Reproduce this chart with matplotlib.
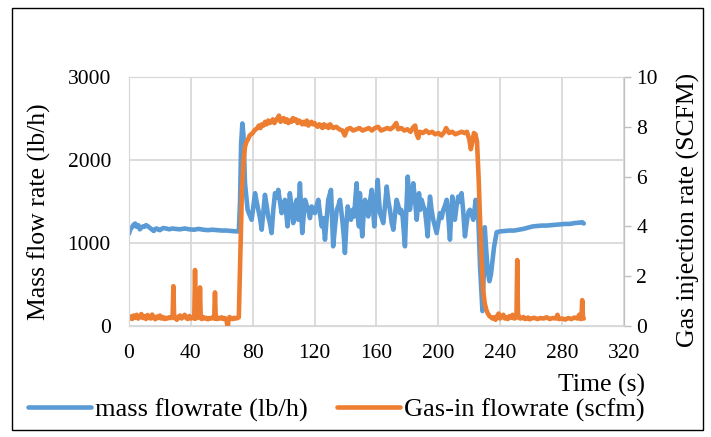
import matplotlib.pyplot as plt
from matplotlib.patches import Rectangle

# mass flowrate readings (s, lb/h)
mass_time = [0, 1, 2, 3, 4, 5, 6, 7, 8, 9, 10, 11, 12, 13, 14, 15, 16, 17, 18, 19, 20,
             22, 24, 26, 28, 30, 33, 36, 39, 42, 45, 48, 51, 54, 57, 60, 63, 66, 69, 71,
             71.8, 72.5, 73.3, 74, 75, 76.7, 77.5, 79.3, 80.5, 81.5, 82.5, 83.6, 84.7, 85.8,
             87, 87.9, 89, 90, 91, 92.2, 93.3, 94.4, 95.5, 96.5, 97.6, 98.7, 99.8, 100.8,
             101.7, 102.5, 103.3, 104, 105, 106.2, 107.3, 108.4, 109.4, 110.5, 111.3, 112,
             113, 113.8, 115, 115.9, 117, 118.1, 119.2, 120.2, 121.3, 122.4, 123.5, 124.6,
             125.6, 126.7, 127.8, 128.8, 130.6, 131.3, 132, 133.2, 134.3, 135.4, 136.4,
             137.9, 138.8, 139.6, 140.5, 141.4, 142.5, 143.5, 144.6, 145.6, 146.4, 147.2,
             148, 148.7, 149.3, 150, 150.8, 151.7, 152.6, 153.7, 154.7, 155.8, 156.9, 157.8,
             158.6, 159.7, 160.8, 161.5, 162.3, 163.4, 164.4, 165.5, 166.6, 167.7, 168.7,
             169.8, 170.9, 172, 173, 174.1, 175.2, 176, 176.9, 177.6, 178.4, 179.3, 180.2,
             181, 181.6, 182.7, 183.8, 185, 186, 186.8, 187.5, 188.3, 189.2, 190.2, 191.3,
             192.2, 193.1, 193.8, 194.6, 195.6, 196.7, 197.8, 198.9, 200, 201, 202.1, 203.2,
             204.3, 205.4, 206.5, 207.5, 208.2, 209, 209.8, 210.7, 211.8, 212.9, 213.9, 215,
             216, 217.2, 218, 218.9, 219.6, 220.4, 221.5, 222.6, 223.4, 224.1, 225, 225.8,
             227, 228.5, 229.3, 230, 231, 232, 233, 234, 234.5, 236, 237.7, 240, 243, 246,
             249, 252, 255, 258, 261, 264, 267, 270, 273, 276, 279, 282, 285, 288, 291, 293, 294]
mass_flow = [1110, 1170, 1190, 1220, 1235, 1195, 1215, 1165, 1185, 1200, 1195, 1215, 1205,
             1190, 1175, 1160, 1145, 1170, 1175, 1160, 1155, 1180, 1175, 1165, 1175, 1170,
             1165, 1175, 1165, 1160, 1170, 1160, 1155, 1160, 1155, 1150, 1150, 1145, 1140, 1140,
             1500, 2200, 2440, 2300, 1720, 1400, 1360, 1280, 1450, 1600, 1500, 1400, 1300, 1160,
             1400, 1580, 1450, 1320, 1250, 1120, 1400, 1600, 1550, 1640, 1500, 1360, 1450, 1520,
             1350, 1200, 1400, 1600, 1450, 1240, 1440, 1520, 1280, 1720, 1400, 1120,
             1350, 1520, 1450, 1400, 1300, 1440, 1380, 1360, 1450, 1520, 1350, 1200,
             1300, 1040, 1300, 1520, 1640, 1300, 960, 1200, 1400, 1450, 1520,
             1280, 1100, 880, 1200, 1440, 1350, 1280, 1400, 1320, 1550, 1720,
             1300, 1200, 1600, 1300, 1080, 1350, 1520, 1400, 1320, 1500, 1640, 1400,
             1200, 1500, 1760, 1550, 1360, 1300, 1240, 1450, 1680, 1500, 1400,
             1250, 1160, 1350, 1520, 1450, 1360, 1400, 1320, 1150, 960, 1400, 1800,
             1600, 1400, 1550, 1720, 1500, 1280, 1450, 1600, 1400, 1520, 1450, 1400,
             1250, 1080, 1350, 1560, 1400, 1280, 1200, 1120, 1250, 1360, 1300, 1400,
             1450, 1520, 1300, 1040, 1300, 1560, 1400, 1280, 1450, 1560, 1500, 1600,
             1400, 1080, 1200, 1320, 1380, 1400, 1350, 1280, 1400, 1520, 1450, 1320,
             700, 180, 600, 1190, 900, 650, 540, 620, 700, 950, 1130, 1140, 1145, 1150,
             1150, 1160, 1170, 1185, 1200, 1205, 1210, 1210, 1215, 1220, 1225, 1230, 1230,
             1240, 1245, 1250, 1235]

# gas-in flowrate readings (s, scfm)
gas_time = [0, 1, 2, 3, 4, 5, 6, 7, 8, 9, 10, 11, 12, 13, 14, 15, 16, 17, 18, 19, 20, 21,
            22, 23, 24, 25, 26, 27, 28.2, 28.7, 29.2, 30, 31, 32, 33, 34, 35, 36, 37, 38, 39,
            40, 41, 42.2, 42.7, 43.2, 44, 45.4, 45.9, 46.4, 47, 48, 49, 50, 51, 52, 53, 54,
            55.1, 55.6, 56.1, 57, 58, 59, 60, 61, 62, 63, 63.8, 64.5, 65, 66, 67, 68, 69, 70, 71,
            72, 73, 74, 75, 76, 77, 78, 79, 80, 81, 82, 83, 84, 85, 86, 87, 88, 89, 90, 91, 92,
            93, 94, 95, 96, 97, 98, 99, 100, 101, 102, 103, 104, 105, 106, 107, 108, 109, 110,
            111, 112, 113, 114, 115, 116, 117, 118, 119, 120, 121, 122, 123, 124, 125, 126, 127,
            128, 129, 130, 132, 134, 136, 138, 139.5, 141, 143, 145, 147, 149, 151, 153, 155,
            157, 159, 161, 163, 165, 167, 169, 171, 172.8, 174, 176, 178, 180, 182, 184, 185,
            186, 187, 188, 190, 192, 194, 196, 198, 200, 202, 204, 205, 207, 209, 211, 213, 215,
            217, 218.5, 220, 221, 222, 223, 224, 225, 226, 227, 228, 229, 230, 231, 232, 233,
            234, 235, 236, 237, 238, 239, 240, 241, 242, 243, 244, 245, 246, 247, 248, 249,
            250.5, 251, 251.5, 252, 253, 254, 255, 256, 257, 258, 259, 260, 262, 264, 266, 268,
            270, 272, 274, 276, 277, 278, 280, 282, 284, 286, 288, 290, 291, 292, 292.5, 293,
            293.5, 294]
gas_flow = [0.30, 0.38, 0.28, 0.42, 0.33, 0.45, 0.30, 0.36, 0.48, 0.32, 0.40, 0.28, 0.44,
            0.35, 0.30, 0.46, 0.34, 0.27, 0.38, 0.32, 0.42, 0.30, 0.36, 0.28, 0.33, 0.30, 0.35,
            0.32, 0.35, 1.60, 0.35, 0.30, 0.25, 0.38, 0.42, 0.30, 0.36, 0.45, 0.32, 0.28, 0.40,
            0.30, 0.35, 0.30, 2.25, 0.30, 0.35, 0.35, 1.55, 0.32, 0.28, 0.36, 0.30, 0.33, 0.27,
            0.32, 0.30, 0.35, 0.30, 1.35, 0.30, 0.28, 0.33, 0.30, 0.35, 0.28, 0.32, 0.25, -0.05,
            0.30, 0.36, 0.30, 0.28, 0.33, 0.30, 0.32, 0.35,
            2.8, 5.4, 6.6, 7.2, 7.4, 7.5, 7.65, 7.7, 7.75, 7.85, 7.9, 7.95, 8.05, 7.95, 8.1, 8.05,
            8.2, 8.1, 8.25, 8.15, 8.2, 8.3, 8.15, 8.25, 8.35, 8.45, 8.2, 8.3, 8.35, 8.2, 8.3,
            8.15, 8.25, 8.2, 8.35, 8.25, 8.3, 8.15, 8.25, 8.2, 8.1, 8.2, 8.1, 8.25, 8.05, 8.15,
            8.2, 8.1, 8.15, 8.05, 8.0, 8.1, 8.05, 7.95, 8.1, 8.0, 8.05, 7.95, 8.1, 7.95, 8.0,
            7.9, 7.85, 7.65, 7.9, 7.95, 7.85, 7.9, 7.95, 7.85, 7.9, 7.95, 7.85, 7.95, 8.0, 7.85,
            7.9, 7.95, 7.9, 8.0, 8.15, 7.9, 7.95, 7.85, 7.9, 7.8, 8.0, 8.05, 7.7, 7.55, 7.8,
            7.75, 7.85, 7.75, 7.8, 7.7, 7.75, 7.65, 7.8, 7.95, 7.75, 7.8, 7.7, 7.75, 7.8, 7.75,
            7.8, 7.5, 7.1, 7.4, 7.75, 7.7, 7.4, 6.0, 4.2, 2.6, 1.4, 0.9, 0.65, 0.5, 0.4, 0.35,
            0.3, 0.35, 0.25, 0.4, 0.5, 0.3, 0.38, 0.45, 0.3, 0.35, 0.28, 0.4, 0.33, 0.45, 0.3,
            0.35, 2.65, 0.35, 0.4, 0.3, 0.32, 0.36, 0.28, 0.3, 0.34, 0.27, 0.3, 0.33, 0.28,
            0.32, 0.3, 0.35, 0.28, 0.32, 0.3, 0.45, 0.28, 0.3, 0.26, 0.32, 0.28, 0.34, 0.3,
            0.45, 0.28, 0.3, 1.04, 0.35, 0.3]

x_ticks = [0, 40, 80, 120, 160, 200, 240, 280, 320]
left_ticks = [0, 1000, 2000, 3000]
right_ticks = [0, 2, 4, 6, 8, 10]

plt.rcParams['font.family'] = ['Liberation Serif', 'DejaVu Serif']
fs = 15.5        # tick labels
fs_title = 18.5  # axis titles and legend
grid_col = '#D9D9D9'

W, H = 711, 437
fig = plt.figure(figsize=(W / 100, H / 100), dpi=100)
ax = fig.add_axes([0.1814, 0.254, 0.6962, 0.5698])
ax2 = ax.twinx()

l1, = ax.plot(mass_time, mass_flow, color='#5B9BD5', lw=3.3,
              solid_joinstyle='round', solid_capstyle='round', label='mass flowrate (lb/h)')
l2, = ax2.plot(gas_time, gas_flow, color='#ED7D31', lw=3.3,
               solid_joinstyle='round', solid_capstyle='round', label='Gas-in flowrate (scfm)')

ax.set_xlim(0, 320)
ax.set_ylim(0, 3000)
ax2.set_ylim(0, 10)
ax.set_xticks(x_ticks)
ax.set_yticks(left_ticks)
ax2.set_yticks(right_ticks)
ax.grid(True, color=grid_col, lw=1.3)
ax.set_axisbelow(True)

ax.tick_params(axis='x', length=0, labelsize=fs, pad=13)
ax.tick_params(axis='y', length=0, labelsize=fs, pad=13)
ax2.tick_params(axis='y', length=5, width=1, color='#BFBFBF', labelsize=fs, pad=4)
for sp in ax.spines.values():
    sp.set_color(grid_col)
for sp in ax2.spines.values():
    sp.set_color(grid_col)
ax2.spines['right'].set_color('#BFBFBF')

# axis titles placed in pixel terms
fig.text(39 / W, 1 - 212 / H, 'Mass flow rate (lb/h)', rotation=90,
         fontsize=fs_title, ha='center', va='center')
fig.text(688 / W, 1 - 210 / H, 'Gas injection rate (SCFM)', rotation=90,
         fontsize=fs_title, ha='center', va='center')
fig.text(645 / W, 1 - 385 / H, 'Time (s)', fontsize=fs_title, ha='right', va='center')

fig.legend(handles=[l1, l2], loc='center left', bbox_to_anchor=(28 / W, 1 - 410 / H), ncol=2,
           frameon=False, fontsize=fs_title + 0.5, handlelength=2.4, handletextpad=0.15,
           columnspacing=1.1, borderaxespad=0, borderpad=0)

# outer chart frame
fig.add_artist(Rectangle((0.017, 0.016), 0.972, 0.966, transform=fig.transFigure,
                         fill=False, edgecolor='black', lw=1.0))

fig.savefig('out.png', dpi=100)
